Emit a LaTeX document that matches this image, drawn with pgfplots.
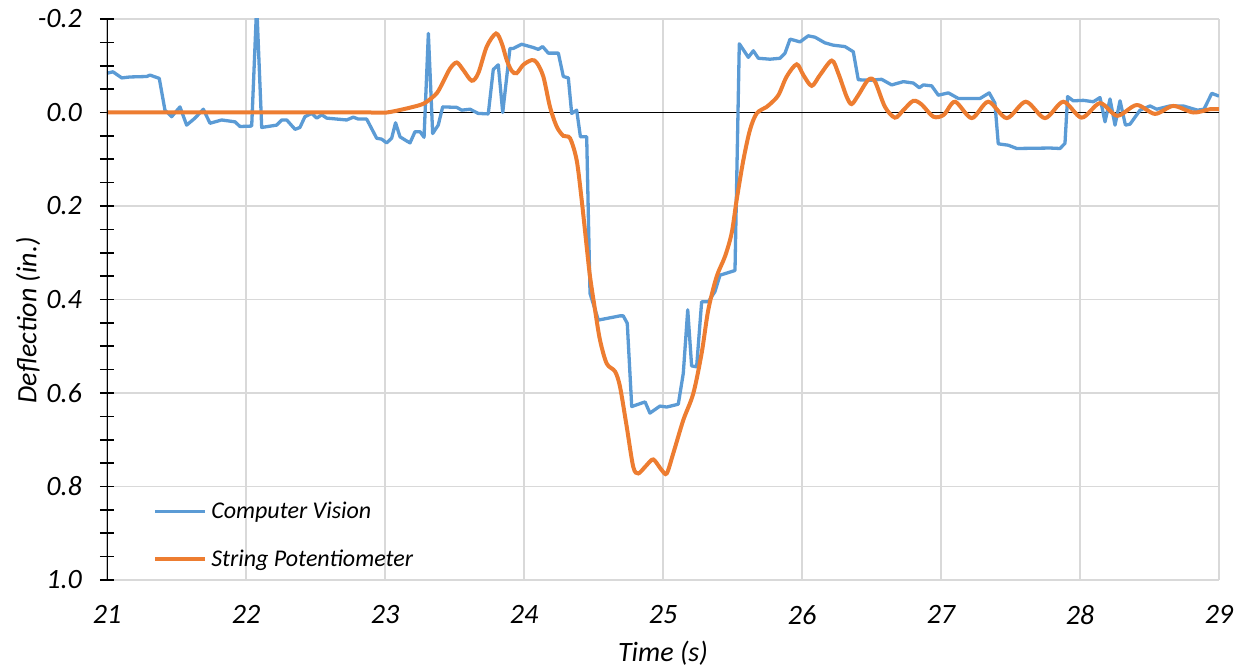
\documentclass[border=0pt]{standalone}
\usepackage{fontspec}
\setmainfont{Carlito}
\usepackage{pgfplots}
\pgfplotsset{compat=1.18}

\definecolor{cvblue}{HTML}{5B9BD5}
\definecolor{spot}{HTML}{ED7D31}
\definecolor{gridgray}{HTML}{D9D9D9}

\begin{document}
\begin{tikzpicture}
\begin{axis}[
    scale only axis,
    width=556pt, height=280.5pt,
    xmin=21, xmax=29,
    ymin=-0.2, ymax=1.0,
    y dir=reverse,
    clip=true,
    axis line style={draw=none},
    xtick={21,22,...,29},
    ytick={-0.2,0,0.2,0.4,0.6,0.8,1.0},
    yticklabels={-0.2,0.0,0.2,0.4,0.6,0.8,1.0},
    minor y tick num=3,
    ytick pos=left,
    tick align=center,
    major tick length=7pt,
    minor tick length=7pt,
    x tick style={draw=none},
    y tick style={black, line width=0.8pt},
    minor y tick style={black, line width=0.8pt},
    grid=major,
    major grid style={gridgray, line width=0.8pt},
    /pgf/number format/assume math mode=true,
    ticklabel style={font=\fontsize{14}{16}\selectfont\itshape},
    xticklabel style={yshift=-5.8pt},
    yticklabel style={xshift=-5.5pt},
    xlabel={Time (s)},
    ylabel={Deflection (in.)},
    label style={font=\fontsize{14}{16}\selectfont\itshape},
    xlabel style={at={(axis description cs:0.5,-0.130)}, anchor=center},
    ylabel style={at={(axis description cs:-0.071,0.463)}, anchor=center},
    legend cell align=left,
    legend style={draw=none, fill=none, at={(axis cs:21.33,0.905)}, anchor=west,
        font=\fontsize{12}{14}\selectfont\itshape, row sep=10pt, inner sep=0pt},
    legend image code/.code={\draw[#1] (0pt,0pt) -- (25pt,0pt);},
]
\draw[black, line width=0.9pt] (axis cs:21,0) -- (axis cs:29,0);
\addplot[cvblue, line width=1.65pt, line join=round] coordinates {
(21.000,-0.084) (21.043,-0.087) (21.106,-0.074) (21.165,-0.076) (21.286,-0.077)
(21.309,-0.080) (21.376,-0.073) (21.417,-0.005) (21.465,0.009) (21.525,-0.012)
(21.573,0.027) (21.633,0.012) (21.693,-0.007) (21.741,0.023) (21.825,0.016)
(21.921,0.020) (21.957,0.030) (22.041,0.029) (22.077,-0.230) (22.113,0.032)
(22.221,0.027) (22.257,0.016) (22.293,0.016) (22.353,0.036) (22.388,0.032)
(22.424,0.009) (22.473,0.002) (22.509,0.012) (22.545,0.005) (22.581,0.012)
(22.724,0.016) (22.772,0.010) (22.808,0.014) (22.868,0.014) (22.940,0.055)
(22.976,0.057) (23.012,0.065) (23.048,0.055) (23.076,0.022) (23.108,0.052)
(23.151,0.060) (23.180,0.065) (23.216,0.041) (23.252,0.041) (23.281,0.053)
(23.312,-0.169) (23.343,0.045) (23.383,0.027) (23.415,-0.012) (23.516,-0.011)
(23.552,-0.005) (23.612,-0.007) (23.671,0.002) (23.743,0.003) (23.779,-0.092)
(23.815,-0.102) (23.847,0.000) (23.899,-0.137) (23.923,-0.137) (23.983,-0.146)
(24.067,-0.139) (24.103,-0.135) (24.134,-0.141) (24.175,-0.127) (24.247,-0.127)
(24.283,-0.077) (24.319,-0.074) (24.343,0.002) (24.379,-0.005) (24.406,0.052)
(24.451,0.052) (24.475,0.387) (24.535,0.444) (24.691,0.435) (24.714,0.435)
(24.743,0.451) (24.775,0.629) (24.871,0.619) (24.906,0.643) (24.978,0.628)
(25.027,0.630) (25.110,0.624) (25.146,0.558) (25.178,0.422) (25.206,0.542)
(25.242,0.544) (25.278,0.405) (25.326,0.405) (25.374,0.383) (25.410,0.348)
(25.518,0.338) (25.549,-0.147) (25.614,-0.118) (25.650,-0.132) (25.686,-0.116)
(25.770,-0.114) (25.842,-0.116) (25.878,-0.127) (25.914,-0.157) (25.986,-0.151)
(26.045,-0.164) (26.094,-0.161) (26.165,-0.149) (26.225,-0.144) (26.309,-0.141)
(26.369,-0.130) (26.405,-0.070) (26.489,-0.069) (26.573,-0.071) (26.645,-0.059)
(26.729,-0.066) (26.801,-0.063) (26.844,-0.053) (26.873,-0.059) (26.933,-0.057)
(26.981,-0.037) (27.053,-0.042) (27.125,-0.030) (27.281,-0.030) (27.347,-0.042)
(27.388,-0.020) (27.412,0.067) (27.484,0.070) (27.545,0.077) (27.784,0.076)
(27.856,0.077) (27.892,0.066) (27.911,-0.034) (27.952,-0.025) (28.024,-0.026)
(28.096,-0.023) (28.144,-0.032) (28.180,0.020) (28.216,-0.029) (28.252,0.027)
(28.288,-0.025) (28.327,0.027) (28.360,0.025) (28.432,-0.005) (28.504,-0.014)
(28.552,-0.007) (28.647,-0.014) (28.743,-0.014) (28.845,-0.005) (28.892,-0.007)
(28.948,-0.041) (29.000,-0.035)
};
\addlegendentry{Computer Vision}
\addplot[spot, line width=2pt, smooth, tension=0.5] coordinates {
(21.000,0.000) (22.000,0.000) (22.900,0.000) (23.012,0.000) (23.132,-0.007)
(23.252,-0.016) (23.300,-0.023) (23.372,-0.041) (23.419,-0.066) (23.468,-0.094)
(23.516,-0.107) (23.563,-0.091) (23.624,-0.068) (23.671,-0.084) (23.732,-0.141)
(23.799,-0.169) (23.840,-0.148) (23.876,-0.112) (23.912,-0.089) (23.947,-0.084)
(23.995,-0.102) (24.055,-0.112) (24.091,-0.107) (24.139,-0.077) (24.187,-0.012)
(24.235,0.030) (24.283,0.050) (24.331,0.055) (24.379,0.102) (24.415,0.187)
(24.451,0.287) (24.475,0.351) (24.511,0.422) (24.547,0.487) (24.595,0.537)
(24.655,0.554) (24.691,0.587) (24.739,0.672) (24.786,0.758) (24.822,0.772)
(24.871,0.758) (24.919,0.743) (24.942,0.745) (24.991,0.765) (25.027,0.772)
(25.074,0.729) (25.146,0.658) (25.218,0.601) (25.278,0.515) (25.326,0.422)
(25.386,0.351) (25.446,0.308) (25.494,0.258) (25.530,0.187) (25.578,0.102)
(25.626,0.037) (25.674,0.002) (25.746,-0.012) (25.770,-0.018) (25.830,-0.037)
(25.890,-0.077) (25.962,-0.103) (26.010,-0.080) (26.070,-0.057) (26.129,-0.080)
(26.214,-0.111) (26.261,-0.084) (26.321,-0.034) (26.357,-0.018) (26.405,-0.037)
(26.477,-0.070) (26.525,-0.066) (26.597,-0.012) (26.669,0.011) (26.729,-0.005)
(26.801,-0.025) (26.861,-0.017) (26.945,0.009) (27.020,0.005) (27.101,-0.023)
(27.221,0.012) (27.340,-0.023) (27.473,0.012) (27.610,-0.023) (27.748,0.012)
(27.880,-0.023) (28.012,0.011) (28.144,-0.020) (28.268,0.007) (28.408,-0.016)
(28.540,0.003) (28.671,-0.014) (28.815,0.000) (28.935,-0.007) (29.000,-0.007)
};
\addlegendentry{String Potentiometer}
\draw[black, line width=0.9pt] (rel axis cs:0,0) -- (rel axis cs:0,1);
\end{axis}
\pgfresetboundingbox
\path (-53.5pt,-44pt) rectangle (568.5pt,290pt);
\end{tikzpicture}
\end{document}
